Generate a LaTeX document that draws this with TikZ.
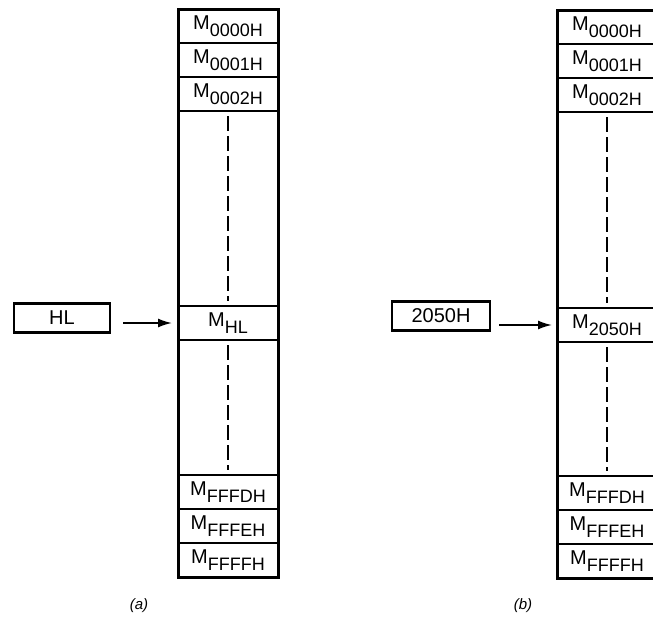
\documentclass[tikz,border=0pt]{standalone}
\usepackage{fontspec}
\setmainfont{Liberation Sans}
\usepackage{tikz}
\usetikzlibrary{arrows.meta, positioning}

\newcommand{\memloc}[1]{M\raisebox{-6.5pt}{\fontsize{18}{19}\selectfont #1}}

\begin{document}
\begin{tikzpicture}[x=1pt, y=-1pt,
        cell/.style={draw, line width=1.5pt, minimum width=100pt, minimum height=34pt, inner sep=0pt, outer sep=0pt, font=\fontsize{20}{22}\selectfont},
        regbox/.style={draw, line width=2.5pt, minimum height=29pt, inner sep=0pt, font=\fontsize{20}{22}\selectfont},
        column/.style={line width=3pt},
        gap/.style={dash pattern=on 15pt off 5pt, line width=1.4pt, shorten >=5pt, shorten <=5pt},
        pointer/.style={-{Latex[length=14pt,width=9pt]}, line width=1.8pt},
        caption/.style={font=\fontsize{15}{17}\selectfont\itshape}
    ]
    \useasboundingbox (0,0) rectangle (653,629);
    \clip (0,0) rectangle (653,629);

    % (a) Speicher mit HL als Zeiger
    \node[cell] (a1) at (228,26) {\memloc{0000H}};
    \node[cell, below=0pt of a1] (a2) {\memloc{0001H}};
    \node[cell, below=0pt of a2] (a3) {\memloc{0002H}};
    \node[cell] (ahl) at (228,323) {\memloc{HL}};
    \node[cell] (a6) at (228,560) {\memloc{FFFFH}};
    \node[cell, above=0pt of a6] (a5) {\memloc{FFFEH}};
    \node[cell, above=0pt of a5] (a4) {\memloc{FFFDH}};
    \draw[column] (a1.north west) rectangle (a6.south east);
    \draw[gap] (a3.south) -- (ahl.north);
    \draw[gap] (ahl.south) -- (a4.north);

    \node[regbox, minimum width=96pt] (hl) at (62,318) {HL};
    \draw[pointer] ([xshift=12pt]hl.east |- ahl) -- ([xshift=-6pt]ahl.west);
    \node[caption] (capa) at (139,606) {(a)};

    % (b) Speicher mit fester Adresse
    \node[cell] (b1) at (607,27) {\memloc{0000H}};
    \node[cell, below=0pt of b1] (b2) {\memloc{0001H}};
    \node[cell, below=0pt of b2] (b3) {\memloc{0002H}};
    \node[cell] (bhl) at (607,325) {\memloc{2050H}};
    \node[cell] (b6) at (607,561) {\memloc{FFFFH}};
    \node[cell, above=0pt of b6] (b5) {\memloc{FFFEH}};
    \node[cell, above=0pt of b5] (b4) {\memloc{FFFDH}};
    \draw[column] (b1.north west) rectangle (b6.south east);
    \draw[gap] (b3.south) -- (bhl.north);
    \draw[gap] (bhl.south) -- (b4.north);

    \node[regbox, minimum width=98pt] (addr) at (441,316) {2050H};
    \draw[pointer] ([xshift=8pt]addr.east |- bhl) -- ([xshift=-5pt]bhl.west);
    \node[caption] (capb) at (523,606) {(b)};
\end{tikzpicture}
\end{document}
